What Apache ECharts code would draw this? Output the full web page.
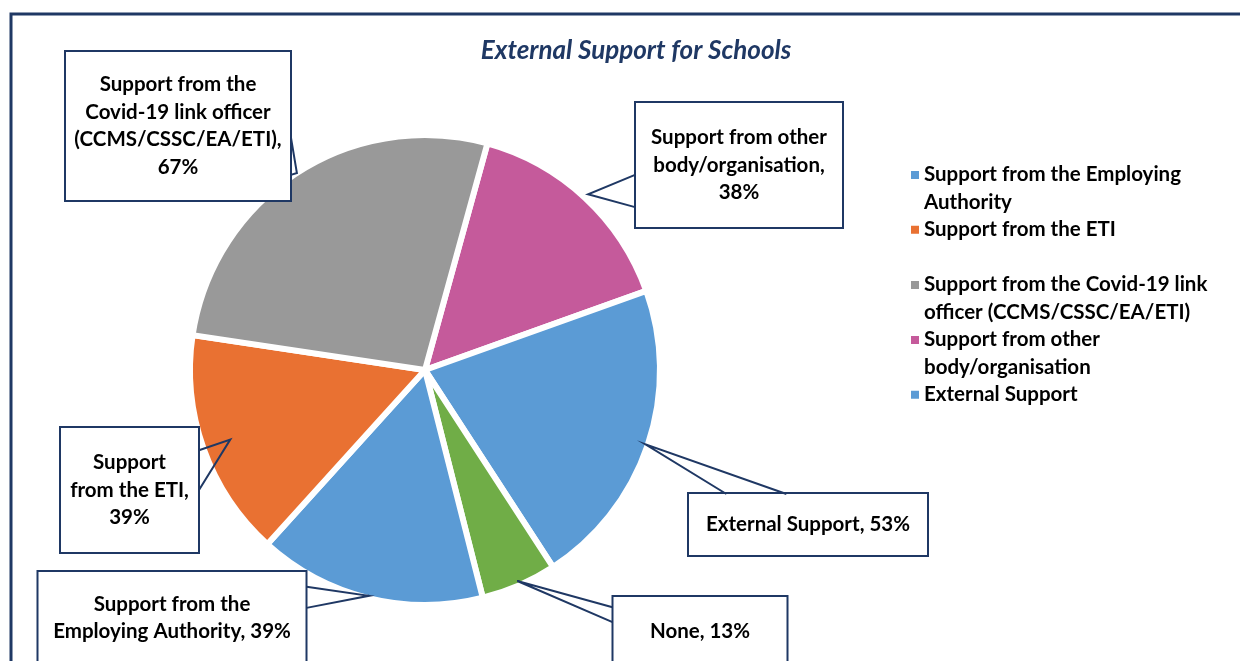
<!DOCTYPE html>
<html>
<head>
<meta charset="utf-8">
<script src="https://cdn.jsdelivr.net/npm/echarts@6/dist/echarts.min.js"></script>
<style>
html,body{margin:0;padding:0;background:#fff;}
#chart{width:1240px;height:661px;}
</style>
</head>
<body>
<div id="chart"></div>
<script>
// ---- data ----
const categories = [
  'Support from other body/organisation',
  'External Support',
  'None',
  'Support from the Employing Authority',
  'Support from the ETI',
  'Support from the Covid-19 link officer (CCMS/CSSC/EA/ETI)'
];
const values = [38, 53, 13, 39, 39, 67];
const legendItems = [
  'Support from the Employing Authority',
  'Support from the ETI',
  'Support from the Covid-19 link officer (CCMS/CSSC/EA/ETI)',
  'Support from other body/organisation',
  'External Support'
];
const titleText = 'External Support for Schools';

// ---- styles / layout ----
const colors = ['#C55A9B', '#5B9BD5', '#70AD47', '#5B9BD5', '#E97132', '#999999'];
const navy = '#1F3864';
const FONT = 'Lato';
const FS = 20.5;
const LH = 27.5;
const CENTER = [425, 370];
// word counts per line for each callout label (null = single line)
const labelWrap = [[3, 1, 1], null, null, [3, 3], [1, 3, 1], [3, 3, 1, 1]];
// callout boxes: centre, outer size, side of the pointer and its base (fractions of that side), tip radius factor
const labelBoxes = [
  { cx: 739, cy: 165, w: 208, h: 124, side: 'left', b0: 0.58, b1: 0.84, f: 1.02 },
  { cx: 808, cy: 524.5, w: 240, h: 61, side: 'top', b0: 0.16, b1: 0.41, f: 0.99 },
  { cx: 700, cy: 631, w: 175, h: 68, side: 'left', b0: 0.15, b1: 0.37, f: 0.98 },
  { cx: 172, cy: 618, w: 269, h: 92, side: 'right', b0: 0.16, b1: 0.39, f: 0.99 },
  { cx: 129.5, cy: 490, w: 139, h: 124, side: 'right', b0: 0.18, b1: 0.5, f: 0.88 },
  { cx: 178, cy: 126, w: 226, h: 148, side: 'right', b0: 0.58, b1: 0.83, f: 1.0 }
];
const legendWrap = [[4, 1], null, [5, 2], [3, 1], null];
const legendTops = [161, 216, 271, 326, 381];

function wrap(text, counts) {
  if (!counts) return text;
  const words = text.split(' ');
  const out = [];
  let i = 0;
  counts.forEach(c => { out.push(words.slice(i, i + c).join(' ')); i += c; });
  if (i < words.length) out[out.length - 1] += ' ' + words.slice(i).join(' ');
  return out.join('\n');
}

function basePoint(b, t) {
  const x0 = b.cx - b.w / 2, y0 = b.cy - b.h / 2;
  if (b.side === 'left') return [x0, y0 + b.h * t];
  if (b.side === 'right') return [x0 + b.w, y0 + b.h * t];
  if (b.side === 'top') return [x0 + b.w * t, y0];
  return [x0 + b.w * t, y0 + b.h];
}

const pieData = categories.map((name, i) => {
  const b = labelBoxes[i];
  const nLines = labelWrap[i] ? labelWrap[i].length : 1;
  const pv = (b.h - nLines * LH) / 2;
  return {
    name: name,
    value: values[i],
    itemStyle: { color: colors[i] },
    label: {
      formatter: wrap(name + ', ' + values[i] + '%', labelWrap[i]),
      width: b.w - 12,
      padding: [pv, 5, pv, 5]
    }
  };
});

const legends = legendItems.map((name, i) => {
  const two = !!legendWrap[i];
  return {
    left: 911,
    top: legendTops[i],
    orient: 'vertical',
    padding: 0,
    itemGap: 0,
    itemWidth: 8,
    itemHeight: two ? 55 : 8,
    selectedMode: false,
    data: [{ name: name, icon: two ? 'path://M0,0M0,10h8v8h-8zM8,55' : 'rect' }],
    formatter: n => wrap(n, legendWrap[i]),
    itemStyle: { borderWidth: 0 },
    textStyle: { fontFamily: FONT, fontWeight: 'bold', fontSize: FS, lineHeight: LH, color: '#000' }
  };
});

const chart = echarts.init(document.getElementById('chart'), null, { renderer: 'canvas' });
chart.setOption({
  backgroundColor: '#fff',
  animation: false,
  title: {
    text: titleText,
    left: 631,
    top: 33,
    textAlign: 'center',
    textStyle: { fontFamily: FONT, fontStyle: 'italic', fontWeight: 'bold', fontSize: 26, color: navy }
  },
  legend: legends,
  graphic: [{
    type: 'rect',
    z: -10,
    silent: true,
    shape: { x: 11, y: 14, width: 1400, height: 900 },
    style: { fill: 'none', stroke: navy, lineWidth: 3 }
  }],
  series: [{
    type: 'pie',
    center: CENTER,
    radius: 235,
    startAngle: 74.6,
    clockwise: true,
    avoidLabelOverlap: false,
    itemStyle: { borderColor: '#fff', borderWidth: 6 },
    label: {
      show: true,
      position: 'outside',
      fontFamily: FONT,
      fontWeight: 'bold',
      fontSize: FS,
      lineHeight: LH,
      color: '#000',
      align: 'center',
      backgroundColor: '#fff',
      borderColor: navy,
      borderWidth: 2
    },
    labelLine: {
      show: true,
      length: 15,
      length2: 10,
      smooth: false,
      lineStyle: { color: navy, width: 2, join: 'miter' }
    },
    labelLayout: function (params) {
      const b = labelBoxes[params.dataIndex];
      const res = { x: b.cx, y: b.cy, align: 'center', verticalAlign: 'middle' };
      const pts = params.labelLinePoints;
      if (pts && pts.length) {
        const a = pts[0];
        const tip = [CENTER[0] + (a[0] - CENTER[0]) * b.f, CENTER[1] + (a[1] - CENTER[1]) * b.f];
        res.labelLinePoints = [basePoint(b, b.b0), tip, basePoint(b, b.b1)];
      }
      return res;
    },
    emphasis: { disabled: true },
    data: pieData
  }]
});

// keep the callout pointers drawn above the slices (as in the reference)
const zr = chart.getZr();
function raisePointers() {
  let changed = false;
  zr.storage.getDisplayList(true).forEach(function (el) {
    if (el.type === 'polyline' && el.z2 !== 100) {
      el.z = 10;
      el.z2 = 100;
      el.markRedraw && el.markRedraw();
      changed = true;
    }
  });
  if (changed) zr.refreshImmediately();
}
raisePointers();
chart.on('finished', raisePointers);
</script>
</body>
</html>
